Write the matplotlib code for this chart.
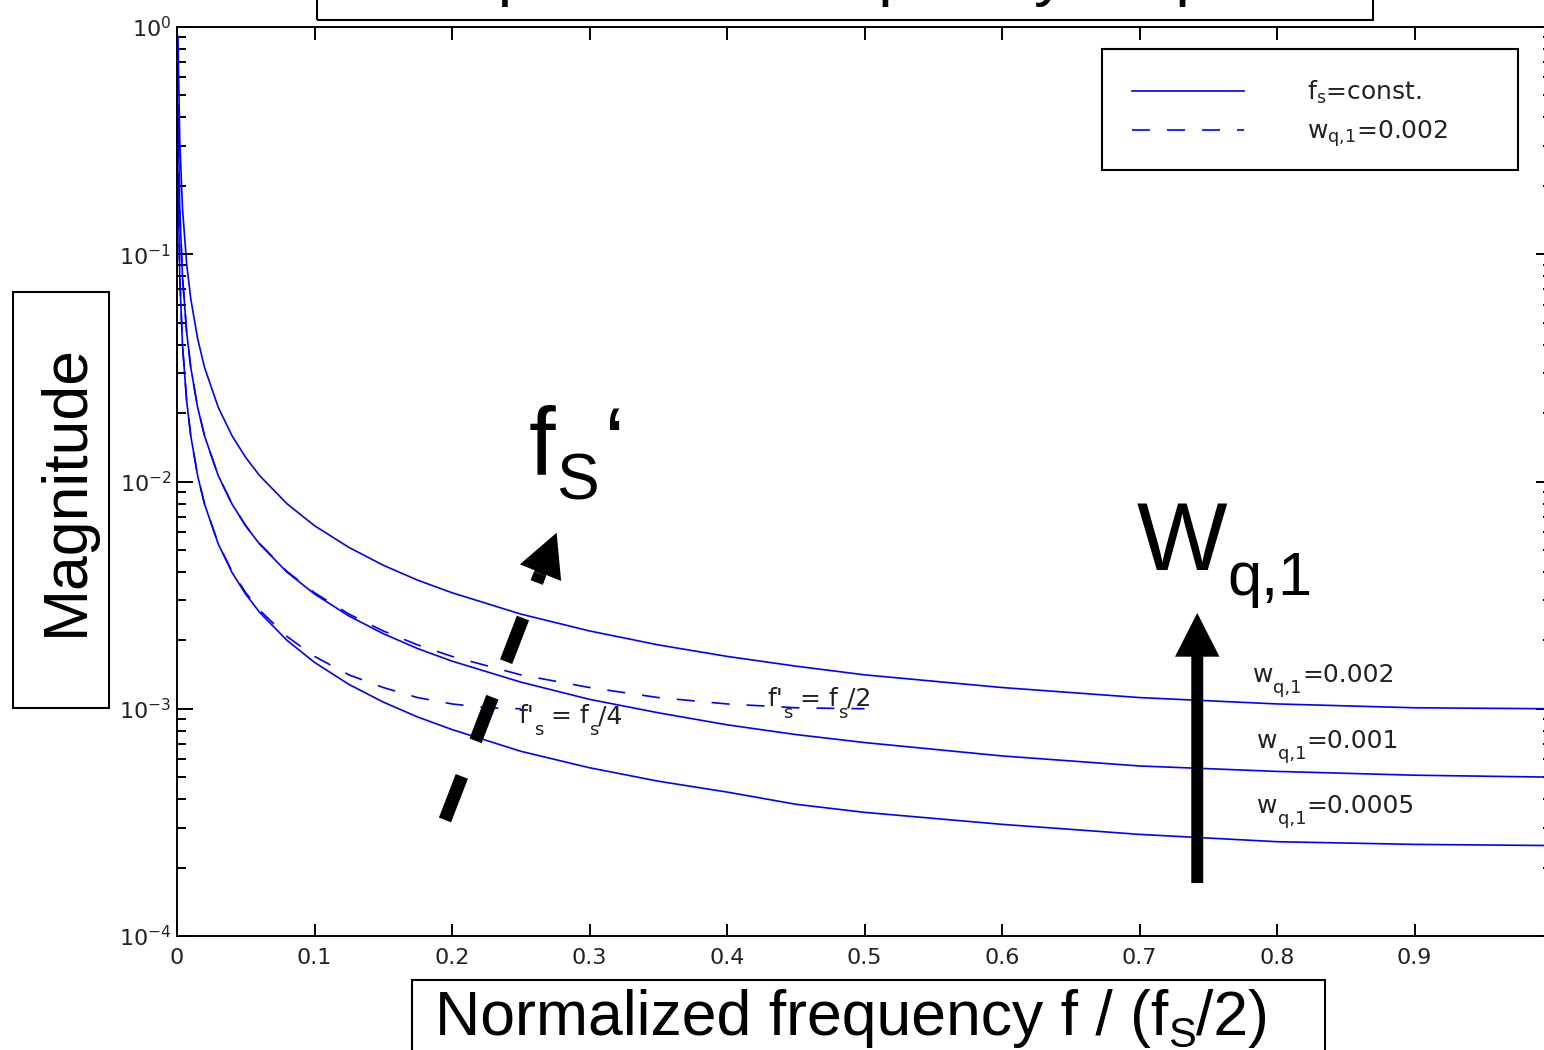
import matplotlib
matplotlib.use('Agg')
import matplotlib.pyplot as plt
from matplotlib.patches import Rectangle
from matplotlib.ticker import FixedLocator, FixedFormatter, NullLocator

W, H = 1544, 1050

# values
f_full = [0.0007, 0.002, 0.004, 0.007, 0.01, 0.015, 0.02, 0.03, 0.04, 0.05, 0.06,
          0.08, 0.1, 0.125, 0.15, 0.175, 0.2, 0.25, 0.3, 0.35, 0.4, 0.45, 0.5,
          0.6, 0.7, 0.8, 0.9, 1.0]
mag_w002 = [0.909, 0.318, 0.159, 0.0909, 0.0637, 0.0425, 0.0318, 0.0212, 0.0159,
            0.01275, 0.01063, 0.00798, 0.00639, 0.00513, 0.00428, 0.00368, 0.00324,
            0.00261, 0.0022, 0.00191, 0.0017, 0.00154, 0.00141, 0.00124, 0.00112,
            0.00105, 0.00101, 0.001]
mag_w001 = [0.455, 0.159, 0.0796, 0.0455, 0.0318, 0.0212, 0.0159, 0.0106, 0.00796,
            0.00637, 0.00531, 0.00399, 0.0032, 0.00256, 0.00214, 0.00184, 0.00162,
            0.00131, 0.0011, 0.00096, 0.00085, 0.00077, 0.00071, 0.00062, 0.00056,
            0.00053, 0.00051, 0.0005]
mag_w0005 = [0.227, 0.0796, 0.0398, 0.0227, 0.0159, 0.0106, 0.00796, 0.00531, 0.00398,
             0.00319, 0.00266, 0.002, 0.0016, 0.00128, 0.00107, 0.00092, 0.00081,
             0.00065, 0.00055, 0.00048, 0.00043, 0.00038, 0.00035, 0.00031, 0.00028,
             0.00026, 0.000253, 0.00025]

f_quarter = [0.0007, 0.002, 0.004, 0.007, 0.01, 0.015, 0.02, 0.03, 0.04, 0.05, 0.06,
             0.08, 0.1, 0.125, 0.15, 0.175, 0.2, 0.225, 0.25]
mag_fs4 = [0.227, 0.0796, 0.0398, 0.0227, 0.0159, 0.0106, 0.00798, 0.00534, 0.00402,
           0.00324, 0.00272, 0.00208, 0.0017, 0.00141, 0.00124, 0.00112, 0.00105,
           0.00101, 0.001]

f_half = [0.0007, 0.002, 0.004, 0.007, 0.01, 0.015, 0.02, 0.03, 0.04, 0.05, 0.06,
          0.08, 0.1, 0.125, 0.15, 0.175, 0.2, 0.25, 0.3, 0.35, 0.4, 0.45, 0.5]
mag_fs2 = [0.455, 0.159, 0.0796, 0.0455, 0.0318, 0.0212, 0.0159, 0.0106, 0.00798,
           0.00639, 0.00534, 0.00402, 0.00324, 0.00261, 0.0022, 0.00191, 0.0017,
           0.00141, 0.00124, 0.00112, 0.00105, 0.00101, 0.001]

xtick_vals = [0, 0.1, 0.2, 0.3, 0.4, 0.5, 0.6, 0.7, 0.8, 0.9, 1.0]
# the 1.0 tick sits past the right edge of the picture, so no label there
xtick_labels = ['0', '0.1', '0.2', '0.3', '0.4', '0.5', '0.6', '0.7', '0.8', '0.9', '']

curve_labels = ['0.002', '0.001', '0.0005']
curve_label_pos = [(0.7825, 1.31e-3), (0.7855, 6.72e-4), (0.7855, 3.48e-4)]
fs_labels = ['4', '2']
fs_label_pos = [(0.248, 8.65e-4), (0.429, 1.03e-3)]


def px(x, y):
    # pixel position (from top-left) -> figure fraction
    return x / W, 1 - y / H


plt.rcParams['font.family'] = ['DejaVu Sans']
plt.rcParams['mathtext.default'] = 'regular'

fig = plt.figure(figsize=(W / 100, H / 100), dpi=100)
ax = fig.add_axes([177 / W, 1 - 936 / H, 1375 / W, 909 / H])
renderer = fig.canvas.get_renderer()


def chain(x, y, parts, **kw):
    # draw text pieces one after another; parts = (text, size, drop px, gap px)
    for s, size, drop, gap in parts:
        t = fig.text(*px(x + gap, y + drop), s, fontsize=size, va='baseline',
                     ha='left', **kw)
        x = t.get_window_extent(renderer).x1


def box(x0, y0, x1, y1):
    fig.add_artist(Rectangle(px(x0, y1), (x1 - x0) / W, (y1 - y0) / H,
                             transform=fig.transFigure, fill=False,
                             edgecolor='black', lw=1.5, clip_on=False))


blue = '#0000ff'
dash = (0, (10.8, 10.2))
solid = ax.plot(f_full, mag_w002, color=blue, lw=1.2)
ax.plot(f_full, mag_w001, color=blue, lw=1.2)
ax.plot(f_full, mag_w0005, color=blue, lw=1.2)
dashed = ax.plot(f_quarter, mag_fs4, color=blue, lw=1.2, linestyle=dash)
ax.plot(f_half, mag_fs2, color=blue, lw=1.2, linestyle=dash)

ax.set_yscale('log')
ax.set_xlim(0, 1)
ax.set_ylim(1e-4, 1e0)
ax.xaxis.set_major_locator(FixedLocator(xtick_vals))
ax.xaxis.set_major_formatter(FixedFormatter(xtick_labels))
ax.xaxis.set_minor_locator(NullLocator())

for s in ax.spines.values():
    s.set_linewidth(1.4)
ax.tick_params(which='both', direction='in', top=True, right=True, width=1.4,
               labelsize=16, labelcolor='#222222')
ax.tick_params(axis='x', length=9, pad=9)
ax.tick_params(axis='y', which='major', length=11.5, pad=4)
ax.tick_params(axis='y', which='minor', length=6.5)

# legend (frame drawn separately so its size matches the original)
leg = ax.legend([solid[0], dashed[0]], ['$f_s$=const.', '$w_{q{,}1}$=0.002'],
                loc='upper left', mode='expand', fontsize=18,
                bbox_to_anchor=(1102 / W, 1 - 170 / H, 416 / W, 121 / H),
                bbox_transform=fig.transFigure, borderaxespad=0,
                handlelength=4.48, handletextpad=2.52, borderpad=1.2,
                labelspacing=0.47, frameon=False)
for t in leg.get_texts():
    t.set_color('#222222')
box(1102, 49, 1518, 170)

# curve labels (placed in data coordinates)
small = dict(color='#222222')
for txt, pos in zip(curve_labels, curve_label_pos):
    x, y = ax.transData.transform(pos)
    chain(x, H - y, [('w', 18, 0, 0), ('q,1', 13, 11, 0), ('=' + txt, 18, 0, 0)],
          **small)
for txt, pos in zip(fs_labels, fs_label_pos):
    x, y = ax.transData.transform(pos)
    chain(x, H - y, [("f'", 18, 0, 0), ('s', 13, 12, 0), (' = f', 18, 0, 0),
                     ('s', 13, 12, 0), ('/' + txt, 18, 0, 0)], **small)

# solid arrow (w_q,1 increasing)
ax.annotate('', xy=(0.742, 2.64e-3), xytext=(0.742, 1.71e-4),
            arrowprops=dict(facecolor='black', edgecolor='none', width=8.6,
                            headwidth=32, headlength=31.5, shrink=0))
# dashed arrow (f_s' increasing)
ax.plot([0.1949, 0.2640], [3.24e-4, 3.92e-3], color='black', lw=9.4,
        linestyle=(0, (3.58, 2.92)))
ax.annotate('', xy=(0.2761, 5.95e-3), xytext=(0.2640, 3.92e-3),
            arrowprops=dict(facecolor='black', edgecolor='none', width=9.0,
                            headwidth=32, headlength=31, shrink=0))

big = dict(family=['Liberation Sans', 'DejaVu Sans'], color='black')
chain(529, 474.5, [('f', 69, 0, 0), ('S', 46, 24.5, 0), ('\u2018', 69, 0, 6)], **big)
chain(1137, 570, [('W', 69, 0, 0), ('q,1', 44, 25, 0)], **big)

# axis labels in boxes
chain(435, 1035, [('Normalized frequency f / (f', 45, 0, 0), ('S', 30, 12, 0),
                  ('/2)', 45, 0, 0)], **big)
fig.text(*px(83, 490), 'Magnitude', rotation=90, rotation_mode='anchor',
         va='baseline', ha='center', fontsize=45, **big)
# title sits mostly above the picture, only its descenders show
fig.text(*px(400, -6), 'Amplitude of frequency response', va='baseline',
         ha='left', fontsize=47, **big)

box(13, 292, 109, 708)
box(412, 980, 1325, 1090)
box(317, -80, 1373, 20)

fig.savefig('out.png', dpi=100)
